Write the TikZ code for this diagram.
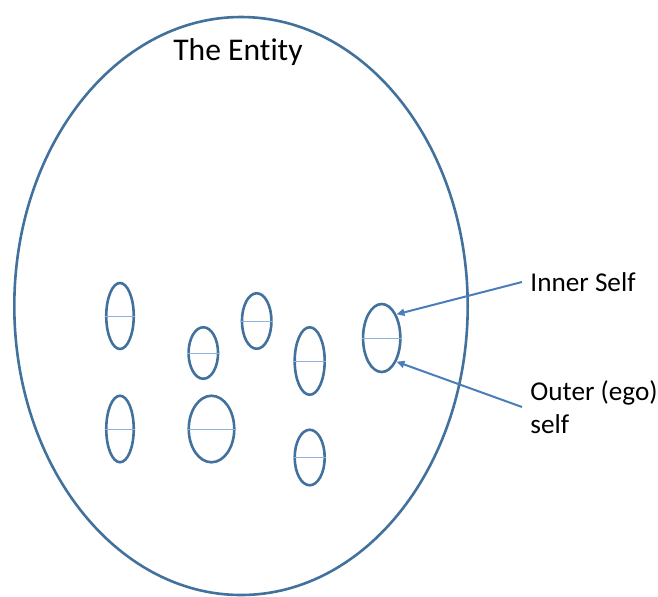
\documentclass[tikz,border=0pt]{standalone}
\usepackage{fontspec}
\setmainfont[Ligatures=NoCommon]{Carlito}
\usetikzlibrary{shapes.geometric,arrows.meta}

\definecolor{shapeblue}{RGB}{65,113,156}
\definecolor{arrowblue}{RGB}{74,126,187}
\definecolor{lineblue}{RGB}{143,177,222}

\tikzset{
    selfbox/.style={ellipse, draw=shapeblue, line width=1.3pt, inner sep=0pt},
    midline/.style={draw=lineblue, line width=0.5pt},
    pointer/.style={draw=arrowblue, line width=1pt, -{Triangle[length=4pt,width=3.5pt]}},
    tag/.style={font=\fontsize{13.6}{16.5}\selectfont, inner sep=4pt}
}

\begin{document}
\begin{tikzpicture}[x=0.5pt,y=-0.5pt]
    \useasboundingbox (0,0) rectangle (658,596);

    \draw[draw=shapeblue, line width=1.3pt] (241,306) ellipse [x radius=113.35pt, y radius=144.5pt];
    \node (entity) at (238,52) {\fontsize{15.8}{19}\selectfont The Entity};

    \node[selfbox, minimum width=13.75pt, minimum height=33pt] (s1) at (120,316) {};
    \draw[midline] (s1.west) -- (s1.east);

    \node[selfbox, minimum width=14.75pt, minimum height=25.75pt] (s2) at (203.3,353) {};
    \draw[midline] (s2.west) -- (s2.east);

    \node[selfbox, minimum width=14.75pt, minimum height=27.75pt] (s3) at (256.7,321) {};
    \draw[midline] (s3.west) -- (s3.east);

    \node[selfbox, minimum width=15pt, minimum height=33.75pt] (s4) at (309.7,361) {};
    \draw[midline] (s4.west) -- (s4.east);

    \node[selfbox, minimum width=13.75pt, minimum height=33.25pt] (s5) at (120,429) {};
    \draw[midline] (s5.west) -- (s5.east);

    \node[selfbox, minimum width=22.75pt, minimum height=33.25pt] (s6) at (211.5,429) {};
    \draw[midline] (s6.west) -- (s6.east);

    \node[selfbox, minimum width=15pt, minimum height=27.75pt] (s7) at (309.7,457.5) {};
    \draw[midline] (s7.west) -- (s7.east);

    \node[selfbox, minimum width=18.65pt, minimum height=34pt] (s8) at (381.7,338) {};
    \draw[midline] (s8.west) -- (s8.east);

    \node[tag, anchor=west] (inner) at (522,282) {Inner Self};
    \node[tag, anchor=west, align=left] (outer) at (522,407) {Outer (ego)\\self};

    \draw[pointer] (inner.west) -- (s8.58);
    \draw[pointer] (outer.west) -- (s8.-58);

\end{tikzpicture}
\end{document}
